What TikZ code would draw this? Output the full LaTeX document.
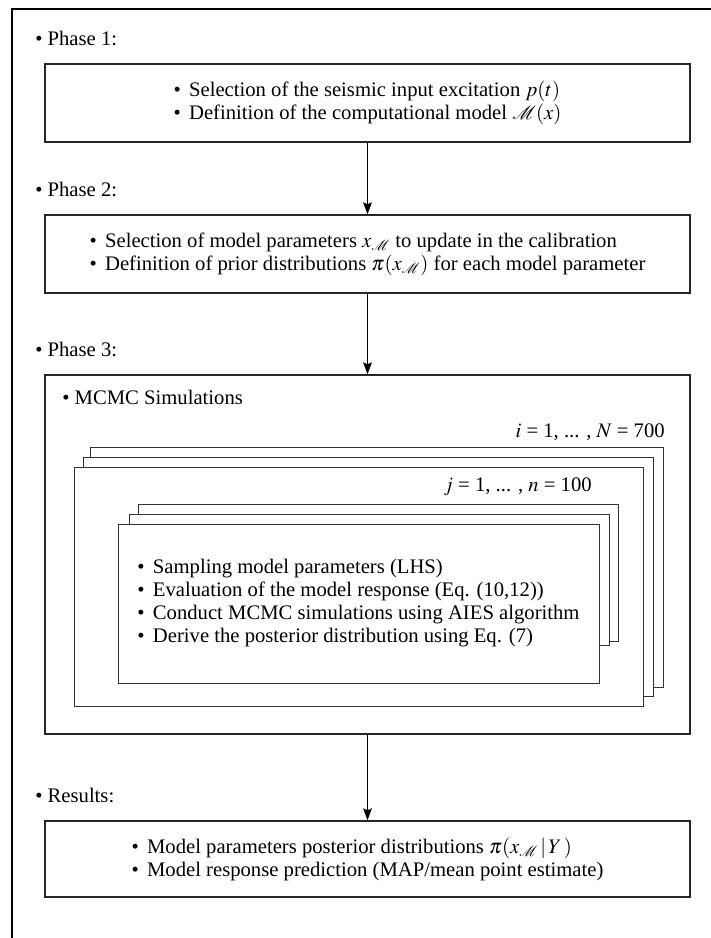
\documentclass[tikz,border=0pt]{standalone}
\usepackage{mathptmx}
\usepackage{mathrsfs}
\usepackage{fontspec}
\setmainfont{Liberation Serif}
\usepackage{tikz}
\usetikzlibrary{arrows.meta}

\tikzset{
  stagebox/.style={draw=black!85, line width=1pt, minimum width=483.75pt, minimum height=58.5pt, inner sep=0pt, align=left, font=\fontsize{15.5}{17.25}\selectfont},
  labeltext/.style={inner sep=0pt, anchor=west, font=\fontsize{15.5}{17.25}\selectfont},
  flow/.style={line width=1pt, -{Stealth[length=9pt, width=6.5pt, inset=1.5pt]}},
  stack/.style={draw=black!80, line width=0.7pt, fill=white}
}
\newcommand{\bul}{\textbullet\hspace{0.4em}}

\begin{document}
\begin{tikzpicture}[x=0.75pt,y=0.75pt,yscale=-1,xscale=1]
\useasboundingbox (0,0) rectangle (710,938);
%Shape: Frame
\draw [line width=1.3pt] (12,960) -- (12,9) -- (730,9) ;

% Text Node
\node (phaseA) [labeltext] at (35,38) {\textbullet{} Phase 1:};
%Shape: Rectangle
\node (boxA) [stagebox] at (367.5,103) {\bul Selection of the seismic input excitation $p(t)$\\ \bul Definition of the computational model $\mathscr{M}(x)$};

% Text Node
\node (phaseB) [labeltext] at (35,189) {\textbullet{} Phase 2:};
%Shape: Rectangle
\node (boxB) [stagebox] at (367.5,254) {\bul Selection of model parameters $x_{\mathscr{M}}$ to update in the calibration\\ \bul Definition of prior distributions $\pi(x_{\mathscr{M}})$ for each model parameter};

% Text Node
\node (phaseC) [labeltext] at (35,349) {\textbullet{} Phase 3:};
%Shape: Rectangle
\node (boxC) [stagebox, minimum height=269.25pt] at (367.5,554.5) {};
% Text Node
\node (mcmc) [labeltext] at (62,397) {\textbullet{} MCMC Simulations};
% Text Node
\node (iloop) [labeltext, anchor=east] at (665,432) {$i$ = 1, ... , $N$ = 700};

%Shape: Rectangle (outer stack)
\draw [stack] (90,447) rectangle (663,687) ;
\draw [stack] (83,457) rectangle (653,696) ;
\draw [stack] (74,467) rectangle (643,706) ;
% Text Node
\node (jloop) [labeltext, anchor=east] at (592,487) {$j$ = 1, ... , $n$ = 100};

%Shape: Rectangle (inner stack)
\draw [stack] (138,504) rectangle (618,641) ;
\draw [stack] (129,514) rectangle (609,645) ;
\draw [stack] (118,524) rectangle (599,683) ;
% Text Node
\node (steps) [labeltext, anchor=center, align=left] at (358.5,603.5) {\bul Sampling model parameters (LHS)\\ \bul Evaluation of the model response (Eq. (10,12))\\ \bul Conduct MCMC simulations using AIES algorithm\\ \bul Derive the posterior distribution using Eq. (7)};

% Text Node
\node (phaseD) [labeltext] at (35,795) {\textbullet{} Results:};
%Shape: Rectangle
\node (boxD) [stagebox, minimum height=57pt] at (367.5,859) {\bul Model parameters posterior distributions $\pi(x_{\mathscr{M}}\,|\,Y\,)$\\ \bul Model response prediction (MAP/mean point estimate)};

%Straight Lines
\draw [flow] (boxA) -- (boxB) ;
\draw [flow] (boxB) -- (boxC) ;
\draw [flow] (boxC) -- (boxD) ;
\end{tikzpicture}
\end{document}
